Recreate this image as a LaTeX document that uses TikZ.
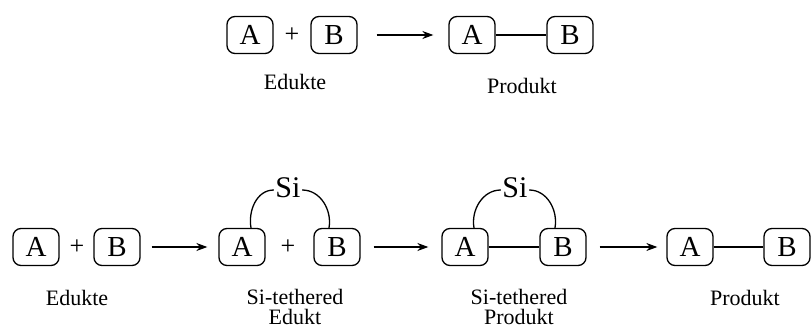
\documentclass[tikz,border=0pt]{standalone}
\usepackage{fontspec}
\setmainfont{Liberation Serif}
\usetikzlibrary{arrows.meta}
\begin{document}
\begin{tikzpicture}[x=1pt,y=-1pt,
  box/.style={draw, line width=1.3pt, rounded corners=8pt, minimum width=46pt, minimum height=37pt, inner sep=0pt, font=\fontsize{29}{29}\selectfont},
  plus/.style={inner sep=0pt, font=\fontsize{26}{26}\selectfont},
  lbl/.style={align=center, font=\fontsize{22}{20}\selectfont, inner sep=0pt},
  si/.style={inner sep=1.5pt, font=\fontsize{30}{30}\selectfont},
  rxn/.style={line width=1.3pt, -{Stealth[length=11pt,width=8pt]}},
  bond/.style={line width=1.3pt},
  tether/.style={line width=1.3pt}]
\useasboundingbox (0,0) rectangle (811,329);
% top row
\node[box] (tA1) at (250,35) {A};
\node[plus] (tP1) at (292,35) {+};
\node[box] (tB1) at (334,35) {B};
\node[box] (tA2) at (472,35) {A};
\node[box] (tB2) at (570,35) {B};
\draw[rxn] ([xshift=19pt]tB1.east) -- ([xshift=-15pt]tA2.west);
\draw[bond] (tA2.east) -- (tB2.west);
\node[lbl] (tL1) at (295,82) {Edukte};
\node[lbl] (tL2) at (522,86) {Produkt};
% bottom row
\node[box] (bA1) at (36,247) {A};
\node[plus] (bP1) at (77,247) {+};
\node[box] (bB1) at (117,247) {B};
\node[box] (bA2) at (242,247) {A};
\node[plus] (bP2) at (288,247) {+};
\node[box] (bB2) at (337,247) {B};
\node[box] (bA3) at (465,247) {A};
\node[box] (bB3) at (563,247) {B};
\node[box] (bA4) at (690,247) {A};
\node[box] (bB4) at (787,247) {B};
\node[si] (si1) at (288,188) {Si};
\node[si] (si2) at (515,188) {Si};
\draw[rxn] ([xshift=11pt]bB1.east) -- ([xshift=-11pt]bA2.west);
\draw[rxn] ([xshift=13pt]bB2.east) -- ([xshift=-13pt]bA3.west);
\draw[rxn] ([xshift=13pt]bB3.east) -- ([xshift=-9pt]bA4.west);
\draw[bond] (bA3.east) -- (bB3.west);
\draw[bond] (bA4.east) -- (bB4.west);
\draw[tether] ([xshift=9pt]bA2.north) to[out=100,in=180] ([yshift=-2pt]si1.west);
\draw[tether] ([yshift=-2pt]si1.east) to[out=0,in=80] ([xshift=-8pt]bB2.north);
\draw[tether] ([xshift=9pt]bA3.north) to[out=100,in=180] ([yshift=-2pt]si2.west);
\draw[tether] ([yshift=-2pt]si2.east) to[out=0,in=80] ([xshift=-8pt]bB3.north);
\node[lbl] (bL1) at (77,298) {Edukte};
\node[lbl] (bL2) at (295,307) {Si-tethered\\Edukt};
\node[lbl] (bL3) at (519,307) {Si-tethered\\Produkt};
\node[lbl] (bL4) at (745,298) {Produkt};
\end{tikzpicture}
\end{document}
